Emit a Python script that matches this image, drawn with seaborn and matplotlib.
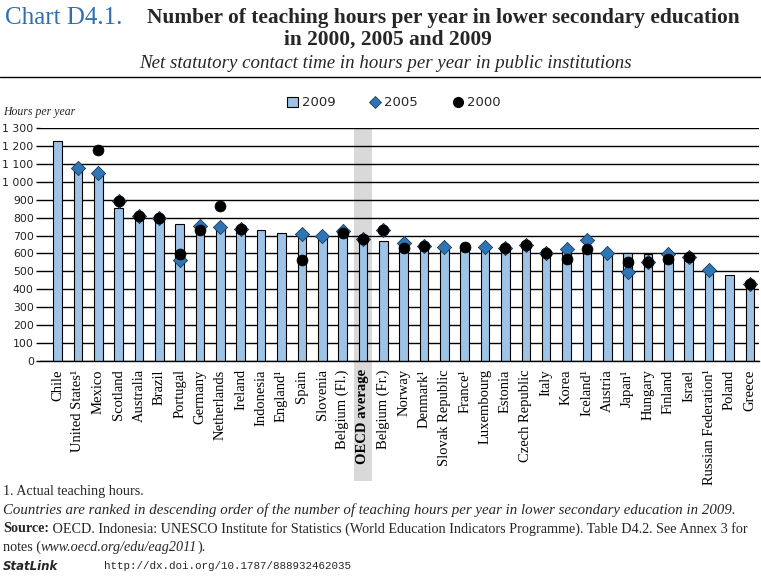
import numpy as np
import pandas as pd
import matplotlib
matplotlib.use("Agg")
import matplotlib.pyplot as plt
import matplotlib.transforms as mtransforms
from matplotlib.patches import Rectangle, Patch
from matplotlib.lines import Line2D
import seaborn as sns

nan = np.nan
countries = ["Chile", "United States¹", "Mexico", "Scotland", "Australia", "Brazil",
             "Portugal", "Germany", "Netherlands", "Ireland", "Indonesia", "England¹",
             "Spain", "Slovenia", "Belgium (Fl.)", "OECD average", "Belgium (Fr.)",
             "Norway", "Denmark¹", "Slovak Republic", "France¹", "Luxembourg", "Estonia",
             "Czech Republic", "Italy", "Korea", "Iceland¹", "Austria", "Japan¹",
             "Hungary", "Finland", "Israel", "Russian Federation¹", "Poland", "Greece"]
hours_2009 = [1228, 1068, 1047, 853, 811, 800, 767, 758, 750, 735, 730, 714,
              713, 690, 720, 703, 670, 654, 648, 639, 640, 636, 630,
              637, 601, 616, 624, 607, 600, 595, 592, 589, 486, 478, 415]
hours_2005 = [nan, 1078, 1047, 893, 808, 798, 562, 756, 750, 735, nan, nan,
              711, 697, 723, 681, 729, 660, 641, 635, nan, 636, 630,
              647, 602, 625, 675, 605, 499, 554, 597, 578, 505, nan, 428]
hours_2000 = [nan, nan, 1180, 893, 808, 798, 595, 732, 867, 735, nan, nan,
              564, nan, 715, 681, 729, 633, 641, nan, 635, nan, 630,
              647, 602, 569, 625, nan, 555, 554, 569, 578, nan, nan, 428]
ytick_values = list(range(0, 1301, 100))
ytick_labels = ["0", "100", "200", "300", "400", "500", "600", "700", "800", "900",
                "1 000", "1 100", "1 200", "1 300"]

df = pd.DataFrame({"country": countries, "h2009": hours_2009,
                   "h2005": hours_2005, "h2000": hours_2000})
df["pos"] = np.arange(len(df))

sns.set_theme(style="white")
plt.rcParams["font.family"] = ["DejaVu Sans"]

W, H = 761, 577
fig = plt.figure(figsize=(W / 100, H / 100), dpi=100)
ax = fig.add_axes([40 / W, 1 - 361 / H, 719 / W, 233 / H])

bar_color = "#9dc3e6"
dia_color = "#2e75b6"

sns.barplot(data=df, x="pos", y="h2009", color=bar_color, saturation=1,
            edgecolor="black", linewidth=0.8, width=0.42, ax=ax, zorder=3,
            native_scale=True)
sns.scatterplot(data=df, x="pos", y="h2005", marker="D", s=52, color=dia_color,
                edgecolor="#1b3a5a", linewidth=0.6, ax=ax, zorder=4, legend=False)
sns.scatterplot(data=df, x="pos", y="h2000", marker="o", s=62, color="black",
                edgecolor="black", linewidth=0.5, ax=ax, zorder=5, legend=False)

n = len(countries)
ax.set_xlim(-0.86, n - 1 + 0.45)
ax.set_ylim(0, 1300)
ax.set_yticks(ytick_values)
ax.set_yticklabels(ytick_labels, fontsize=7.8, color="#222222")
ax.set_axisbelow(True)
ax.yaxis.grid(True, color="black", linewidth=1.0, zorder=0)
ax.xaxis.grid(False)
for s in ["top", "right", "left"]:
    ax.spines[s].set_visible(False)
ax.spines["bottom"].set_color("black")
ax.spines["bottom"].set_linewidth(1.0)
ax.spines["bottom"].set_zorder(6)
ax.tick_params(axis="y", length=3, width=1.0, color="black", pad=1.5, left=True)
ax.set_xlabel("")
ax.set_ylabel("")

ax.set_xticks(df["pos"])
ax.set_xticklabels(countries, rotation=90, fontsize=10.5, family="Liberation Serif",
                   color="black", va="top", ha="center")
ax.tick_params(axis="x", length=0, pad=6)
oecd_idx = countries.index("OECD average")
for lab in ax.get_xticklabels():
    if lab.get_text() == "OECD average":
        lab.set_fontweight("bold")

# grey highlight band for the OECD average
trans = mtransforms.blended_transform_factory(ax.transData, ax.transAxes)
ax.add_patch(Rectangle((oecd_idx - 0.45, -0.513), 0.9, 1.513, transform=trans,
                       facecolor="#d9d9d9", edgecolor="none", zorder=0.5,
                       clip_on=False))

# legend
handles = [Patch(facecolor=bar_color, edgecolor="black", linewidth=0.8),
           Line2D([], [], marker="D", linestyle="none", markersize=6.5,
                  markerfacecolor=dia_color, markeredgecolor="#1b3a5a", markeredgewidth=0.6),
           Line2D([], [], marker="o", linestyle="none", markersize=7,
                  markerfacecolor="black", markeredgecolor="black")]
fig.legend(handles, ["2009", "2005", "2000"], loc="center", ncol=3,
           bbox_to_anchor=(394 / W, 1 - 103 / H), frameon=False, fontsize=9.5,
           handlelength=0.8, handleheight=0.8, handletextpad=0.3, columnspacing=2.6)

renderer = fig.canvas.get_renderer()


def chain(x_px, y_px, pieces):
    x = x_px
    for txt, kw in pieces:
        t = fig.text(x / W, 1 - y_px / H, txt, va="center", ha="left", **kw)
        bb = t.get_window_extent(renderer)
        x = bb.x1


serif = dict(family="Liberation Serif")

# titles
fig.text(5 / W, 1 - 18 / H, "Chart D4.1.", fontsize=18, color="#2e6fae",
         family="Liberation Serif", va="center", ha="left")
fig.text(147 / W, 1 - 18 / H,
         "Number of teaching hours per year in lower secondary education",
         fontsize=15.4, fontweight="bold", family="Liberation Serif",
         va="center", ha="left")
fig.text(388 / W, 1 - 40 / H, "in 2000, 2005 and 2009", fontsize=15.4,
         fontweight="bold", family="Liberation Serif", va="center", ha="center")
fig.text(385 / W, 1 - 64 / H,
         "Net statutory contact time in hours per year in public institutions",
         fontsize=13.6, style="italic", family="Liberation Serif",
         va="center", ha="center")
fig.add_artist(Line2D([0, 1], [1 - 77 / H, 1 - 77 / H], color="black", linewidth=1.0))
fig.text(3 / W, 1 - 112 / H, "Hours per year", fontsize=8.5, style="italic",
         family="Liberation Serif", va="center", ha="left")

# footnotes
fs = 10.2
fig.text(3 / W, 1 - 492 / H, "1. Actual teaching hours.", fontsize=fs,
         family="Liberation Serif", va="center", ha="left")
fig.text(3 / W, 1 - 510 / H,
         "Countries are ranked in descending order of the number of teaching hours per year "
         "in lower secondary education in 2009.",
         fontsize=10.7, style="italic", family="Liberation Serif", va="center", ha="left")
chain(3, 529, [("Source:", dict(fontsize=fs, fontweight="bold", **serif)),
               (" OECD. Indonesia: UNESCO Institute for Statistics (World Education "
                "Indicators Programme). Table D4.2. See Annex 3 for",
                dict(fontsize=fs, **serif))])
chain(3, 547, [("notes (", dict(fontsize=fs, **serif)),
               ("www.oecd.org/edu/eag2011", dict(fontsize=fs, style="italic", **serif)),
               (").", dict(fontsize=fs, **serif))])
fig.text(3 / W, 1 - 566 / H, "StatLink", fontsize=8.5, fontweight="bold",
         style="italic", family="DejaVu Sans", va="center", ha="left")
fig.text(104 / W, 1 - 566 / H, "http://dx.doi.org/10.1787/888932462035",
         fontsize=7.8, family="Liberation Mono", va="center", ha="left")

fig.savefig("out.png", dpi=100, facecolor="white")
